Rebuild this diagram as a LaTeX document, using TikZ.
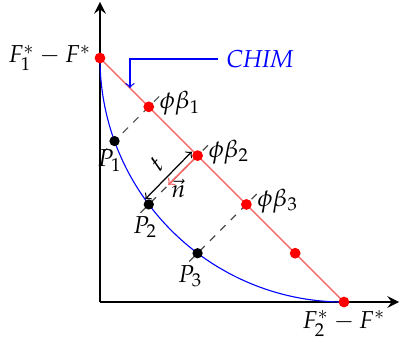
\documentclass[tikz,border=0pt]{standalone}
\usepackage{amsmath}
\usepackage{mathpazo}
\usetikzlibrary{calc}
\definecolor{lred}{RGB}{245,105,105}
\tikzset{
  rdot/.style={circle,fill=red,inner sep=0pt,minimum size=4.4pt},
  bdot/.style={circle,fill=black,inner sep=0pt,minimum size=4.2pt},
  axisline/.style={->,>=stealth,line width=1.1pt},
  front/.style={draw=lred,line width=0.6pt},
  pareto/.style={draw=blue,line width=0.45pt},
  proj/.style={dashed,draw=black!70,line width=0.5pt},
}

\begin{document}
\begin{tikzpicture}[x=0.7cm,y=0.7cm]
\useasboundingbox (-2.049,-0.881) rectangle (6.189,6.189);
% points
\coordinate (o) at (0,0);
\coordinate (xend) at (6.13,0);
\coordinate (yend) at (0,6.15);
\coordinate (c0) at (0,5);
\coordinate (c1) at (1,4);
\coordinate (c2) at (2,3);
\coordinate (c3) at (3,2);
\coordinate (c4) at (4,1);
\coordinate (c5) at (5,0);
\coordinate (q1) at (0.298,3.298);
\coordinate (q2) at (1,2);
\coordinate (q3) at (2,1);
% axes and curves
\draw[axisline] (o) -- (xend);
\draw[axisline] (o) -- (yend);
\draw[pareto] (c0) arc[start angle=180,end angle=270,radius=5];
\draw[front] (c0) -- (c5);
\draw[proj] ($(c1)!-6pt!(q1)$) -- ($(q1)!-6pt!(c1)$);
\draw[proj] ($(c2)!-6pt!(q2)$) -- ($(q2)!-7pt!(c2)$);
\draw[proj] ($(c3)!-6pt!(q3)$) -- ($(q3)!-7pt!(c3)$);
% normal and distance
\coordinate (ntip) at ($(c2)!0.6!(q2)$);
\draw[->,draw=lred,line width=0.6pt] (c2) -- (ntip);
\node[anchor=west,inner sep=1pt,yshift=-1.5pt] (nlbl) at (ntip) {$\vec{n}$};
\coordinate (ta) at ($(q2)+(-0.07,0.11)$);
\coordinate (tb) at ($(c2)+(-0.12,0.08)$);
\draw[<->,line width=0.5pt] (ta) -- (tb) node[midway,sloped,above] (tlbl) {$t$};
% CHIM pointer
\node[blue] (chim) at (3.28,4.98) {$\mathit{CHIM}$};
\coordinate (chimpt) at ($(c0)!0.123!(c5)$);
\draw[->,blue,line width=0.5pt] (chim.west) -| (chimpt);
% dots
\node[rdot] (rp0) at (c0) {};
\node[rdot] (rp1) at (c1) {};
\node[rdot] (rp2) at (c2) {};
\node[rdot] (rp3) at (c3) {};
\node[rdot] (rp4) at (c4) {};
\node[rdot] (rp5) at (c5) {};
\node[bdot] (pp1) at (q1) {};
\node[bdot] (pp2) at (q2) {};
\node[bdot] (pp3) at (q3) {};
% labels
\node[left] (lf1) at (rp0) {$F_1^*-F^*$};
\node[below] (lf2) at (rp5) {$F_2^*-F^*$};
\node[right,yshift=1.5pt,xshift=1pt] (lb1) at (rp1) {$\phi\beta_1$};
\node[right,yshift=1.5pt,xshift=1pt] (lb2) at (rp2) {$\phi\beta_2$};
\node[right,yshift=1.5pt,xshift=1pt] (lb3) at (rp3) {$\phi\beta_3$};
\node[below,xshift=-2pt] (lp1) at (pp1) {$P_1$};
\node[below,xshift=-1.5pt,yshift=-1.5pt] (lp2) at (pp2) {$P_2$};
\node[below,xshift=-3pt,yshift=-1.5pt] (lp3) at (pp3) {$P_3$};
\end{tikzpicture}
\end{document}
